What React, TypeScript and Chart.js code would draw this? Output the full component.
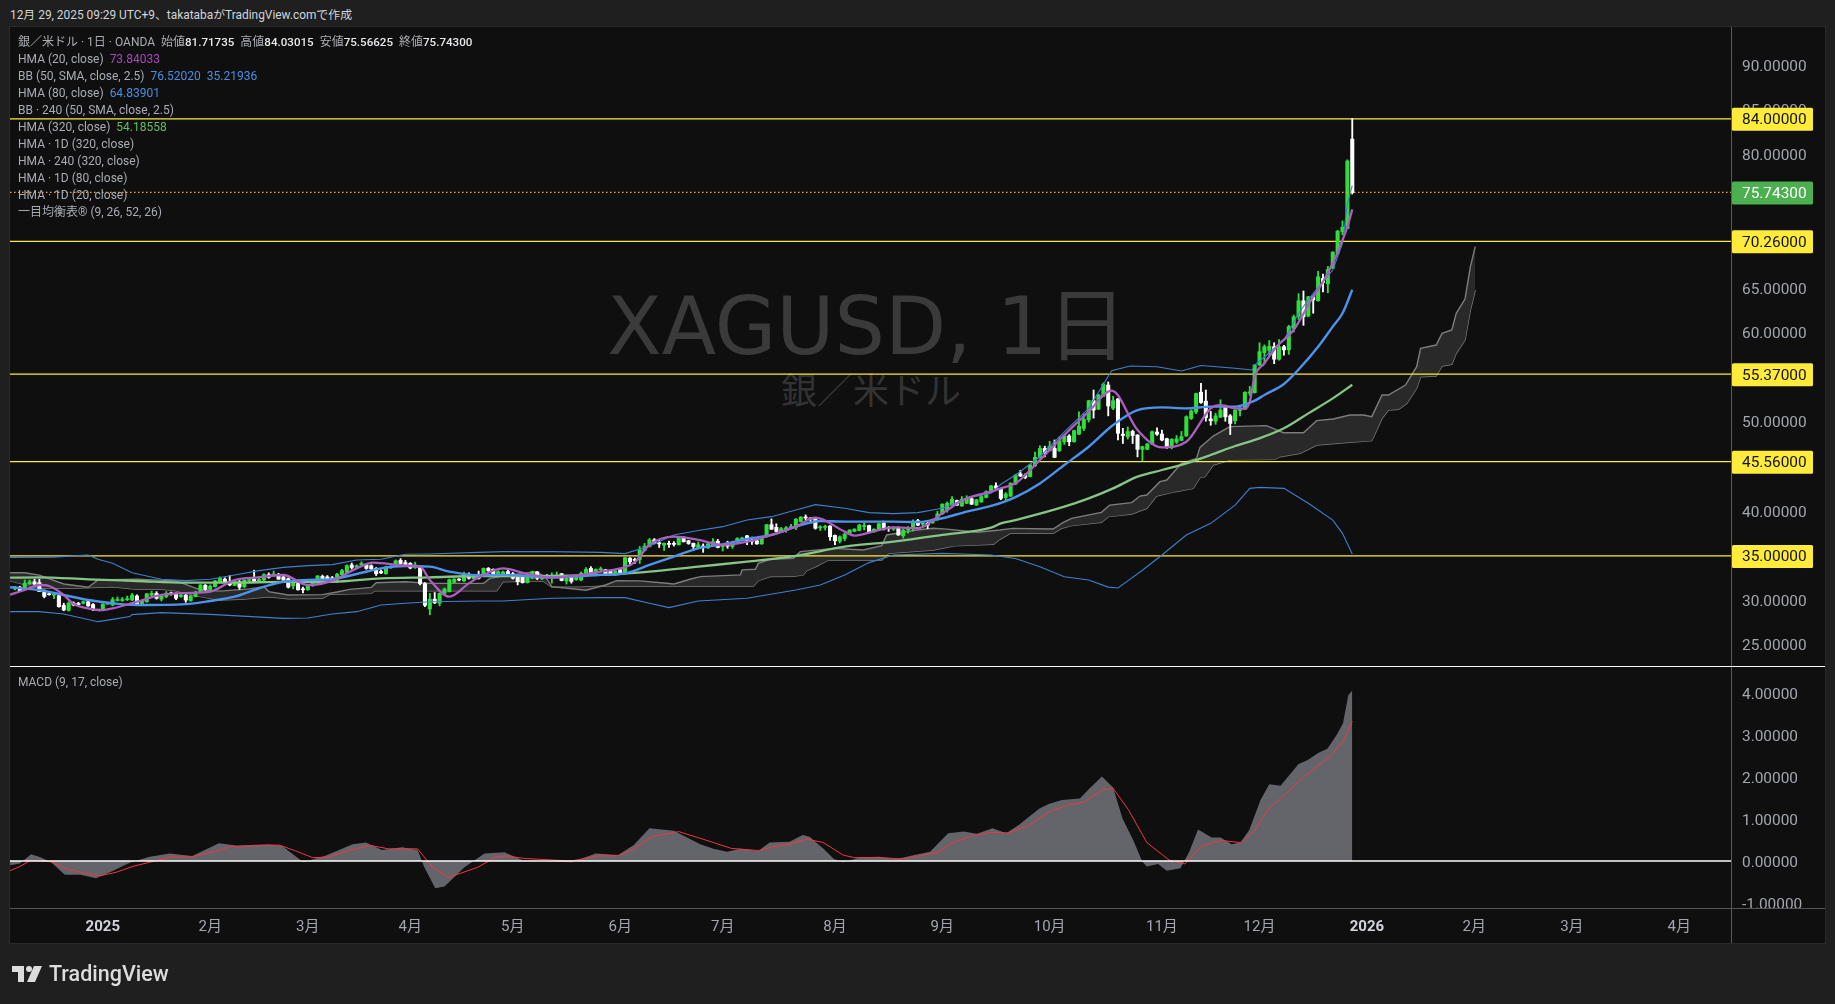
import React, { useEffect, useRef } from "react";
import { Chart, registerables } from "chart.js";

Chart.register(...registerables);

// ---------- daily candles (silver / USD) ----------
const opens = [
  31.3,31.5,31.25,31.85,32.1,32.0,31.05,30.75,30.6,30.55,
  29.45,28.9,29.7,29.65,29.7,29.87,29.55,28.98,29.0,29.6,
  29.5,30.0,30.0,30.1,30.05,30.5,29.6,29.87,30.6,30.8,
  30.15,30.45,30.8,30.8,30.45,30.6,30.0,30.45,30.95,31.7,
  31.25,31.55,32.05,32.4,32.1,31.7,32.1,31.55,32.25,32.4,
  32.1,32.3,32.9,32.75,32.85,32.65,32.45,31.65,31.9,31.3,
  31.2,31.65,31.95,32.7,32.65,32.55,32.3,32.9,33.15,33.98,
  33.75,33.98,33.95,33.9,33.6,33.25,33.0,33.7,33.95,34.5,
  34.25,34.17,33.7,33.75,31.9,29.05,30.15,29.7,30.8,31.0,
  32.05,32.4,32.2,32.87,32.45,32.85,32.8,33.6,33.5,32.9,
  33.0,33.25,33.0,32.75,32.6,32.0,32.5,33.2,32.45,32.8,
  32.7,32.7,33.0,32.2,32.7,32.35,32.3,33.05,33.6,33.05,
  33.45,33.45,33.35,32.85,33.45,33.05,34.75,34.6,34.6,35.6,
  36.05,36.8,36.45,36.2,36.4,36.4,36.25,37.1,36.7,36.4,
  35.9,36.1,35.9,36.15,36.65,36.05,36.25,36.05,36.55,36.9,
  37.25,36.8,36.7,36.35,37.15,38.5,38.2,37.75,37.85,38.15,
  38.2,38.85,39.35,39.25,39.2,38.15,38.2,38.35,37.3,36.65,
  36.95,37.45,37.75,37.85,38.3,38.4,37.7,37.9,38.65,38.15,
  38.0,38.1,37.25,37.9,38.2,38.95,38.55,38.65,38.7,39.05,
  39.7,40.15,40.7,41.2,40.6,40.9,41.4,40.7,41.05,41.55,
  42.3,42.85,42.55,41.55,41.7,43.05,44.2,44.05,43.9,45.1,
  46.0,47.05,46.8,47.05,46.8,47.8,48.45,47.8,48.65,49.3,
  50.25,52.4,51.45,52.9,54.15,51.55,52.6,48.65,48.35,48.95,
  48.55,46.95,46.95,47.54,
  48.89,48.66,48.14,47.17,47.75,47.95,48.45,50.4,51.15,53.35,
  52.35,50.35,50.1,50.55,51.65,50.7,50.15,51.3,51.45,53.25,
  53.3,56.4,57.8,58.05,58.45,57.05,58.45,58.1,60.5,61.85,
  63.6,61.9,64.05,63.6,66.1,65.5,67.25,68.95,71.35,71.7,81.72,
];
const highs = [
  31.6,31.6,32.3,32.3,32.4,32.4,31.2,31.0,30.65,30.65,
  29.7,29.85,29.85,29.8,29.95,29.95,29.65,29.0,29.65,29.8,
  30.35,30.4,30.35,30.5,30.8,30.65,30.05,30.8,31.05,31.0,
  30.6,31.0,30.95,30.85,30.75,30.7,30.6,31.05,31.8,31.8,
  31.75,32.25,32.65,32.55,32.8,32.2,32.25,32.35,32.55,33.4,
  32.65,33.0,33.1,33.3,33.05,32.75,32.55,32.0,32.0,31.5,
  31.7,32.15,32.8,32.85,32.8,32.7,33.05,33.5,34.0,34.2,
  34.0,34.35,34.1,34.0,33.7,33.45,33.85,33.9,34.55,34.7,
  34.5,34.25,34.3,33.8,32.0,30.8,30.9,30.85,31.4,32.4,
  32.45,32.45,33.2,33.1,32.95,33.3,33.65,33.7,33.55,33.35,
  33.3,33.45,33.15,32.8,32.7,32.65,33.3,33.25,32.85,32.9,
  33.1,33.2,33.05,32.55,32.75,32.7,33.2,33.7,33.8,33.55,
  33.75,33.5,33.4,33.4,33.5,34.85,34.8,34.75,36.05,36.4,
  36.95,36.95,36.75,36.45,36.65,36.6,37.1,37.15,36.75,36.45,
  36.55,36.35,36.4,36.95,36.85,36.3,36.65,36.65,37.05,37.1,
  37.3,37.1,36.85,37.2,38.55,39.15,38.6,38.2,38.3,38.55,
  39.2,39.4,39.6,39.3,39.25,38.4,38.45,38.4,37.35,37.25,
  37.55,37.95,38.05,38.55,38.75,38.45,38.05,38.65,38.9,38.3,
  38.25,38.25,38.0,38.3,39.05,39.1,38.85,38.9,39.15,40.0,
  40.85,41.05,41.65,41.25,41.65,41.75,41.65,41.35,41.9,42.3,
  42.9,43.2,42.6,42.1,43.2,44.15,44.6,44.2,45.25,46.65,
  47.35,47.3,47.85,48.0,48.35,48.5,48.6,49.1,51.15,50.9,
  52.45,53.6,53.1,54.4,54.5,52.9,52.65,49.3,49.45,49.1,
  48.6,47.3,47.6,49.0,
  49.35,49.1,48.2,48.15,48.5,48.95,50.7,51.35,53.25,54.35,
  53.6,51.2,51.0,52.5,51.9,50.85,51.4,51.65,53.4,54.0,
  56.45,58.9,58.65,59.15,58.9,59.25,58.6,60.85,62.0,64.4,
  64.7,64.1,64.15,66.9,66.6,67.45,69.1,71.5,72.55,79.4,84.03,
];
const lows = [
  31.2,31.0,31.2,31.8,31.7,31.0,30.3,30.6,30.2,29.25,
  28.85,28.8,29.4,29.45,29.6,29.35,28.85,28.85,28.95,29.55,
  29.4,29.95,29.9,30.0,30.0,29.55,29.55,29.8,30.5,30.15,
  29.95,30.3,30.6,30.1,30.35,29.8,29.9,30.4,30.9,31.15,
  31.15,31.5,32.0,32.05,31.65,31.65,31.25,31.45,32.0,32.05,
  32.0,32.1,32.5,32.7,32.35,32.25,31.4,31.3,31.15,30.85,
  31.15,31.6,31.85,32.4,32.3,32.15,32.0,32.85,33.1,33.5,
  33.6,33.9,33.5,33.45,32.8,33.0,32.95,33.6,33.9,34.05,
  33.8,33.55,33.6,31.75,29.3,28.4,29.65,29.4,30.75,30.95,
  32.0,32.2,32.1,32.4,32.4,32.4,32.7,33.1,32.85,32.8,
  32.9,32.85,32.4,31.75,31.95,31.95,32.45,32.35,32.35,32.6,
  31.95,32.6,32.2,31.85,31.95,32.25,32.2,32.95,32.85,32.95,
  33.35,32.85,32.85,32.8,32.9,33.0,34.0,34.15,34.15,35.55,
  36.0,36.35,35.95,35.6,35.95,36.1,36.2,36.55,36.3,35.6,
  35.85,35.4,35.85,36.1,35.9,35.55,35.85,35.85,36.5,36.85,
  36.25,36.3,36.3,36.3,37.1,37.95,37.7,37.7,37.65,38.1,
  37.95,38.8,39.0,38.7,38.0,37.85,37.9,36.75,36.25,36.45,
  36.7,37.4,37.7,37.8,37.9,37.65,37.65,37.85,37.9,37.75,
  37.85,37.3,37.0,37.55,37.8,38.4,38.35,38.05,38.65,39.0,
  39.65,39.9,40.65,40.65,40.55,40.85,40.75,40.65,41.0,41.5,
  42.25,42.55,41.3,41.3,41.65,43.0,43.9,43.65,43.85,45.0,
  45.95,46.1,46.75,46.0,46.7,47.5,47.35,47.75,48.6,49.05,
  50.0,50.45,51.4,52.85,50.7,51.4,48.0,47.6,48.1,47.6,
  46.1,45.65,46.9,47.5,
  48.5,47.9,47.05,47.0,47.6,47.9,48.4,50.3,50.95,52.1,
  50.1,49.65,49.75,50.5,50.1,48.6,49.8,50.7,51.4,53.0,
  53.25,56.35,56.6,57.5,56.55,56.95,57.5,57.6,60.1,61.5,
  60.85,61.8,62.2,63.55,64.6,64.5,67.2,68.8,71.0,71.7,75.57,
];
const closes = [
  31.5,31.05,31.93,32.1,31.85,31.0,30.45,30.65,30.65,29.31,
  28.95,29.7,29.5,29.55,29.87,29.4,28.95,28.92,29.6,29.7,
  30.1,30.1,30.1,30.2,30.6,29.6,30.0,30.75,30.8,30.25,
  30.5,30.8,30.75,30.25,30.6,30.05,30.5,30.8,31.74,31.25,
  31.6,32.2,32.49,32.1,31.75,32.1,31.5,32.3,32.3,32.1,
  32.35,32.9,32.6,32.97,32.4,32.3,31.5,31.93,31.2,31.2,
  31.6,32.05,32.75,32.45,32.4,32.25,32.95,33.35,33.9,33.7,
  33.9,34.15,33.6,33.55,33.0,33.1,33.75,33.8,34.45,34.15,
  33.98,33.65,33.98,31.9,29.46,30.15,29.75,30.8,31.3,32.35,
  32.4,32.3,32.97,32.5,32.8,32.5,33.6,33.35,33.0,33.25,
  33.2,32.95,32.5,32.1,32.0,32.6,33.25,32.5,32.75,32.7,
  32.8,32.85,32.25,32.5,32.15,32.6,33.05,33.5,32.95,33.5,
  33.5,32.95,32.9,33.3,33.0,34.8,34.35,34.5,35.67,36.1,
  36.8,36.42,36.35,36.42,36.3,36.3,37.05,36.6,36.4,36.05,
  36.25,35.95,36.35,36.6,35.95,36.2,36.1,36.5,36.95,37.0,
  36.7,36.65,36.35,37.1,38.5,38.0,37.75,38.05,38.15,38.25,
  39.1,39.35,39.25,39.1,38.1,38.25,38.3,37.15,36.7,37.15,
  37.45,37.9,38.0,38.45,38.4,37.7,38.0,38.6,38.0,38.05,
  38.1,37.35,37.9,38.0,38.85,38.45,38.7,38.45,39.1,39.7,
  40.8,40.9,41.35,40.7,41.35,41.45,40.8,41.3,41.65,42.2,
  42.85,42.6,41.45,41.95,43.15,44.05,43.95,43.8,45.2,46.05,
  47.05,46.5,47.3,46.05,47.9,48.45,47.8,49.05,49.55,50.3,
  52.4,51.35,53.05,54.25,51.8,52.4,48.75,48.5,48.95,48.5,
  46.95,47.25,47.55,48.93,
  48.65,47.99,47.17,48.07,48.11,48.37,50.6,51.25,53.2,52.2,
  50.5,50.15,50.7,51.35,50.6,49.85,51.35,51.4,53.35,53.4,
  56.4,57.9,58.45,58.5,57.05,58.45,58.1,60.7,61.8,63.6,
  61.8,64.05,63.7,66.3,65.65,67.1,69.05,71.4,71.85,79.27,75.74,
];

type P = [number, number];

// ---------- indicator lines: [bar index, value] ----------
const hma20: P[] = [
  [-1,30.66],[2,31.18],[5,31.74],[7,31.63],[10,30.62],[12,29.6],[15,29.12],[17.4,28.9],[20,29.12],[25,29.87],
  [30,30.62],[35,30.84],[40,30.99],[45,32.3],[50,32.6],[55,32.86],[60,31.74],[65,32.2],[70,33.6],[73.4,34.24],
  [80,33.9],[83,33.79],[85,32.3],[89,30.43],[93,31.92],[95,32.6],[100,33.6],[105,32.97],[110,32.57],[115,32.8],
  [120,33.24],[125,33.75],[127,34.3],[130,36.23],[135,37.16],[140,36.79],[145,36.23],[150,36.6],[155,37.35],[160,38.28],
  [164,39.29],[170,37.72],[172,37.28],[175,37.61],[180,38.2],[185,38.1],[190,39.78],[195,41.46],[200,42.2],[202,42.58],
  [205,43.13],[210,45.75],[215,48.55],[220,51.17],[224.7,53.52],[230,49.11],[235,47.17],[240,47.8],[245,51.54],[247,51.9],
  [250,51.54],[252,51.5],[253,52.3],[254,55.1],[256,56.6],[258.5,58.46],[262,60.33],[266,64.06],[267,64.81],[270,67.8],
  [272,70.4],[273,71.9],[274,73.84],
];
const hma80: P[] = [
  [-1,31.48],[5,31.18],[10,30.62],[15,30.06],[20,29.69],[25,29.5],[35,29.6],[40,29.95],[45,30.43],[50,31.37],
  [55,32.1],[60,32.3],[65,32.4],[70,32.97],[75,33.6],[80,33.87],[85,33.8],[89,33.24],[95,32.83],[100,32.87],
  [110,32.6],[120,32.87],[125,33.05],[130,33.99],[135,34.92],[140,35.85],[145,36.3],[150,36.9],[155,37.35],[160,38.28],
  [165,38.92],[170,38.84],[180,38.84],[185,38.8],[190,39.22],[195,39.97],[200,40.6],[205,41.6],[210,43.13],[215,45.19],
  [220,47.24],[225,49.67],[230,51.35],[235,51.65],[240,51.54],[245,51.73],[250,51.73],[254,52.4],[256,53.04],[260,54.27],
  [263,55.9],[267,58.45],[270,60.7],[272,62.2],[274,64.84],
];
const hma320: P[] = [
  [-1,32.56],[5,32.6],[15,32.38],[25,32.19],[35,32.0],[45,32.0],[55,32.1],[65,32.1],[75,32.49],[85,32.6],
  [95,32.75],[100,32.75],[120,32.87],[130,33.24],[140,33.8],[150,34.36],[160,35.0],[170,36.04],[180,36.6],[190,37.35],
  [200,38.17],[202,38.65],[205,39.02],[215,40.52],[220,41.45],[225,42.57],[230,43.88],[235,44.63],[240,45.38],[245,46.31],
  [250,47.32],[255,48.18],[260,49.3],[265,50.98],[270,52.66],[274,54.19],
];
const bbUpper: P[] = [
  [-1,34.84],[8,34.87],[15,35.1],[17,34.62],[20,34.17],[24,33.12],[30,32.38],[35,32.23],[40,32.38],[45,32.86],
  [50,33.35],[55,33.72],[60,33.91],[65,34.02],[70,34.54],[75,34.62],[80,35.18],[85,35.22],[95,35.4],[100,35.48],
  [110,35.48],[120,35.4],[125,35.26],[130,36.12],[135,37.35],[140,37.84],[145,38.28],[150,39.03],[155,39.4],[160,40.15],
  [164,40.75],[170,40.34],[175,39.85],[180,39.74],[185,39.85],[190,40.34],[195,41.46],[200,42.02],[202,43.03],[205,44.07],
  [210,46.12],[215,48.9],[220,51.54],[224.7,55.76],[228.5,56.29],[234,56.2],[239,55.73],[243,56.35],[250,56.03],[253.5,55.84],
  [254,56.4],[256,57.3],[260,59.2],[263,62.2],[266,64.44],[270,67.05],[272,70.04],[273,74.5],[274,76.52],
];
const bbLower: P[] = [
  [-1,28.75],[5,28.75],[10,28.49],[17,27.63],[20,27.89],[23.5,28.2],[24,28.42],[30,28.64],[40,28.45],[55,28.0],
  [60,28.04],[65,28.49],[70,28.75],[75,29.5],[80,29.69],[85,29.87],[95,29.95],[100,29.95],[110,30.25],[120,30.32],
  [125,30.32],[130,29.69],[134,29.2],[140,29.95],[150,30.25],[160,31.18],[165,31.74],[170,32.87],[175,34.25],[180,35.1],
  [190,35.29],[200,35.1],[205,34.72],[210,33.79],[215,32.67],[220,32.3],[224,31.5],[226,31.4],[228,32.2],[231,33.4],
  [235,35.1],[240,37.34],[245,38.65],[250,40.7],[253,42.57],[255,42.68],[260,42.57],[265,40.9],[270,39.02],[272,37.53],
  [274,35.22],
];
const cloudA: P[] = [
  [-1,33.12],[2,33.12],[5,32.85],[10,31.85],[15,31.48],[17,32.3],[25,32.4],[33,32.2],[38,31.2],[42,31.05],
  [48,31.3],[51,31.55],[52,31.0],[56,30.62],[63,30.66],[66,30.95],[68.6,31.25],[73,31.47],[74,32.0],[80,32.11],
  [85,31.92],[96,31.92],[97.3,32.48],[100,32.75],[106.9,33.23],[108.9,32.48],[110,31.55],[117,31.15],[121,31.74],[123.3,32.23],
  [128,32.2],[133.5,31.93],[135,31.85],[136.6,32.1],[138.3,32.38],[140.4,32.68],[148.6,32.87],[149,33.43],[151.7,33.5],[152.3,34.17],
  [154.7,34.62],[159.5,34.73],[160.9,35.48],[167.7,35.85],[173.8,35.67],[177.6,36.15],[178.6,37.35],[184.8,37.91],[188.2,38.1],[190.9,38.0],
  [197.2,37.65],[201.8,37.9],[204.5,38.09],[212.7,38.01],[214.8,38.76],[216.5,39.21],[222.6,39.88],[224.3,40.7],[228.8,40.97],[230.5,41.71],
  [231.9,41.83],[234.6,43.32],[236,43.51],[239,45.38],[242.1,45.94],[242.8,47.17],[245.5,48.44],[248.9,49.49],[256.4,49.6],[259.9,48.81],
  [264,48.81],[266.7,50.16],[270.1,50.35],[273.5,50.79],[276.3,50.79],[278,50.61],[280.1,53.04],[281.4,53.04],[284.9,54.16],[287.2,56.21],
  [288,58.27],[291.2,58.64],[292.4,59.95],[294.4,60.33],[295.3,62.19],[297.1,63.8],[298.2,67.43],[299.2,69.67],
];
const cloudB: P[] = [
  [-1,32.2],[5,31.37],[13,31.4],[20,31.55],[25,31.25],[30,31.25],[33,31.1],[38,30.43],[42,30.06],[47,30.17],
  [52,30.43],[56,30.2],[63,30.25],[64.5,30.69],[73,30.8],[73.7,31.1],[98.7,31.1],[100,32.1],[108.2,32.2],[110,31.5],
  [115.8,31.48],[121.3,31.63],[151.3,31.63],[152.3,32.23],[154.7,32.68],[159.5,32.72],[161.5,32.87],[162.2,33.35],[164.3,33.87],[166.7,34.55],
  [177.6,34.55],[179,35.29],[188.2,35.67],[191,35.97],[192.3,36.12],[200.5,36.3],[201.8,36.86],[203.9,37.53],[212.7,37.53],[214.4,38.09],
  [216.5,38.39],[222.6,38.76],[224,39.4],[228.8,39.7],[231.9,40.33],[233.9,41.71],[237.7,42.2],[241.4,42.57],[242.8,43.77],[243.8,43.88],
  [245.5,45.19],[248.9,45.75],[258.1,45.82],[259.2,46.12],[263.3,46.5],[266.7,47.43],[272.2,47.69],[278,47.92],[280.1,50.42],[281.4,51.36],
  [283.5,51.43],[285.2,52.1],[287.2,53.79],[288,55.09],[291.2,55.17],[292.4,56.29],[294.4,56.48],[295.3,57.71],[297.1,59.2],[298.2,62.57],
  [299.2,64.81],
];

// ---------- MACD pane ----------
const macdArea: P[] = [
  [-1,-0.1],[1,-0.06],[3.3,0.16],[5.2,0.09],[7.4,-0.03],[10.2,-0.33],[13.4,-0.33],[16.6,-0.41],[19.8,-0.25],[23.5,-0.04],
  [27.6,0.1],[31.7,0.18],[36.3,0.12],[41.8,0.42],[45.4,0.37],[51.8,0.4],[54.6,0.37],[59.1,-0.03],[63.7,0.13],[69.2,0.4],
  [71.9,0.44],[75.2,0.26],[79.3,0.33],[82.5,0.26],[83.8,-0.13],[86.1,-0.65],[88,-0.61],[92.1,-0.15],[96.2,0.18],[100.3,0.21],
  [104,0.02],[114,-0.03],[119,0.18],[123.6,0.14],[126.8,0.38],[130,0.78],[135,0.72],[140.4,0.4],[143.1,0.29],[145.9,0.22],
  [148.6,0.29],[152.3,0.24],[154.6,0.44],[158.7,0.46],[161.4,0.62],[162.8,0.58],[165.6,0.3],[167.8,0.05],[169.7,-0.03],[173.3,0.09],
  [177,0.1],[180.7,0.05],[184.3,0.14],[187.5,0.22],[191.2,0.66],[194.4,0.7],[197.1,0.65],[200.3,0.78],[203.1,0.66],[205.8,0.87],
  [209.9,1.25],[211.8,1.36],[214.5,1.45],[218.2,1.49],[220,1.71],[222.7,2.01],[225,1.75],[226.9,1.02],[229.1,0.5],[231,-0.02],
  [231.9,-0.13],[234.2,-0.07],[236,-0.23],[238.8,-0.17],[240.6,0.22],[242.4,0.75],[245.2,0.56],[247,0.56],[249.3,0.4],[251.1,0.44],
  [252.9,0.74],[255.2,1.45],[257,1.83],[259.3,1.79],[263,2.31],[264.8,2.4],[267.1,2.58],[268.9,2.67],[270.8,3.0],[272.1,3.28],
  [273.2,3.95],[274,4.06],
];
const macdSignal: P[] = [
  [-1,-0.23],[1,-0.13],[3.3,0.02],[7.4,-0.02],[10.2,-0.17],[13.4,-0.27],[17.5,-0.35],[20.7,-0.27],[24.4,-0.12],[27.6,-0.03],
  [31.7,0.09],[36.3,0.1],[40.8,0.22],[44,0.34],[49,0.36],[54.1,0.38],[57.3,0.25],[61,0.08],[64.2,0.09],[68.3,0.25],
  [72.9,0.37],[76.5,0.29],[82.5,0.29],[85.7,-0.17],[88.9,-0.39],[94.8,-0.15],[98.5,0.09],[100.8,0.12],[104.4,0.06],[114,0],
  [119.5,0.12],[123.6,0.13],[126.4,0.26],[130.5,0.58],[136,0.7],[140.4,0.54],[143.1,0.44],[146.8,0.3],[152.3,0.25],[155.5,0.34],
  [158.7,0.4],[162.4,0.52],[165.6,0.44],[169.7,0.14],[172,0.08],[177,0.08],[182,0.05],[188.9,0.2],[192.6,0.46],[196.2,0.6],
  [199.9,0.68],[203.5,0.67],[207.6,0.84],[211.8,1.16],[215.4,1.32],[219.1,1.41],[222.7,1.69],[225,1.73],[228.2,1.21],[231.9,0.44],
  [236.5,0.02],[239.7,-0.07],[242.9,0.34],[247,0.49],[251.1,0.44],[253.9,0.7],[256.6,1.21],[259.3,1.49],[263,1.89],[266.7,2.25],
  [269.4,2.48],[272.1,2.84],[274,3.33],
];

// ---------- levels and axes ----------
const yellowLevels = [84, 70.26, 55.37, 45.56, 35];
const lastClose = 75.743;
const priceTicks = [25, 30, 40, 50, 60, 65, 80, 85, 90];
const macdTicks = [-1, 0, 1, 2, 3, 4];
const timeTickBars = [18, 40, 60, 81, 102, 124, 145, 168, 190, 212, 235, 255, 277, 299, 319, 341];
const timeTickLabels = ["2025", "2月", "3月", "4月", "5月", "6月", "7月", "8月", "9月", "10月", "11月", "12月", "2026", "2月", "3月", "4月"];
const legendRows: [string, string[], string[]][] = [
  ["HMA (20, close)", ["73.84033"], ["#ab47bc"]],
  ["BB (50, SMA, close, 2.5)", ["76.52020", "35.21936"], ["#4a8fe0", "#4a8fe0"]],
  ["HMA (80, close)", ["64.83901"], ["#4a8fe0"]],
  ["BB · 240 (50, SMA, close, 2.5)", [], []],
  ["HMA (320, close)", ["54.18558"], ["#66bb6a"]],
  ["HMA · 1D (320, close)", [], []],
  ["HMA · 240 (320, close)", [], []],
  ["HMA · 1D (80, close)", [], []],
  ["HMA · 1D (20, close)", [], []],
  ["一目均衡表® (9, 26, 52, 26)", [], []],
];
const ohlcLabels: [string, string][] = [["始値", "81.71735"], ["高値", "84.03015"], ["安値", "75.56625"], ["終値", "75.74300"]];

const X_MIN = -1.02;
const X_MAX = 351.6;
const UP = "#2fde3b";
const DOWN = "#ffffff";
const UI_FONT = "Roboto, 'Noto Sans CJK JP', sans-serif";

const pts = (a: P[]) => a.map(([x, y]) => ({ x, y }));
const hLine = (y: number) => [{ x: X_MIN, y }, { x: X_MAX, y }];

const tagPlugin = {
  id: "priceTags",
  afterDraw(chart: any) {
    const { ctx, scales, chartArea } = chart;
    const tag = (v: number, bg: string, fg: string) => {
      const py = scales.y.getPixelForValue(v);
      ctx.save();
      ctx.fillStyle = bg;
      ctx.beginPath();
      ctx.roundRect(chartArea.right + 1, py - 11, 81, 23, 1.5);
      ctx.fill();
      ctx.fillStyle = fg;
      ctx.font = `15.4px ${UI_FONT}`;
      ctx.textBaseline = "middle";
      ctx.textAlign = "left";
      ctx.fillText(v.toFixed(5), chartArea.right + 11, py + 1.5);
      ctx.restore();
    };
    yellowLevels.forEach((v) => tag(v, "#ffeb3b", "#131313"));
    tag(lastClose, "#4caf50", "#ffffff");
  },
};

const Box = ({ s }: { s: React.CSSProperties }) => <div style={{ position: "absolute", ...s }} />;

export default function App() {
  const ref = useRef<HTMLCanvasElement>(null);
  useEffect(() => {
    const line = (label: string, data: P[], color: string, width: number, order: number, extra: any = {}) => ({
      type: "line",
      label,
      data: pts(data),
      borderColor: color,
      borderWidth: width,
      pointRadius: 0,
      order,
      yAxisID: "y",
      ...extra,
    });
    const level = (y: number, color: string, yAxisID: string, order: number, width = 1.3, dash: number[] = []) => ({
      type: "line",
      label: `level ${y}`,
      data: hLine(y),
      borderColor: color,
      borderWidth: width,
      borderDash: dash,
      pointRadius: 0,
      yAxisID,
      order,
    });
    const wickData = highs.map((h, i) => ({ x: i, y: [lows[i], h] }));
    const bodyData = opens.map((o, i) => ({ x: i, y: [o, closes[i]] }));
    const colors = opens.map((o, i) => (closes[i] >= o ? UP : DOWN));
    const barBase = { type: "bar", grouped: false, barPercentage: 1, categoryPercentage: 1, yAxisID: "y", borderWidth: 0 };

    const chart = new Chart(ref.current as HTMLCanvasElement, {
      type: "bar",
      data: {
        datasets: [
          level(lastClose, "#e8a860", "y", 1, 1.2, [1.5, 2.5]),
          line("HMA 20", hma20, "#ab5fc0", 2.3, 2, { cubicInterpolationMode: "monotone" }),
          line("HMA 80", hma80, "#4a94ee", 2.4, 3, { cubicInterpolationMode: "monotone" }),
          line("HMA 320", hma320, "#86c586", 2.3, 4, { cubicInterpolationMode: "monotone" }),
          line("BB upper", bbUpper, "#3f7fd0", 1.1, 5),
          line("BB lower", bbLower, "#3f7fd0", 1.1, 5),
          { ...barBase, label: "bodies", data: bodyData, backgroundColor: colors, maxBarThickness: 3.4, minBarLength: 1, order: 6 },
          { ...barBase, label: "wicks", data: wickData, backgroundColor: colors, maxBarThickness: 1.2, order: 7 },
          ...yellowLevels.map((v) => level(v, "#ffeb3b", "y", 8)),
          line("Span A", cloudA, "#7d7d7d", 1.4, 9, { fill: "+1", backgroundColor: "#292929" }),
          line("Span B", cloudB, "#7d7d7d", 1.4, 10),
          level(0, "#ffffff", "yM", 11, 1.3),
          line("MACD signal", macdSignal, "#f23645", 1, 12, { yAxisID: "yM" }),
          line("MACD", macdArea, "rgba(0,0,0,0)", 0, 13, { yAxisID: "yM", fill: { value: 0 }, backgroundColor: "#64656b" }),
        ],
      } as any,
      options: {
        responsive: false,
        animation: false,
        devicePixelRatio: 1,
        events: [],
        layout: { padding: { left: 10, right: 10, top: 27, bottom: 61 } },
        plugins: { legend: { display: false }, tooltip: { enabled: false }, title: { display: false } },
        scales: {
          x: {
            type: "linear",
            min: X_MIN,
            max: X_MAX,
            offset: false,
            grid: { display: false, drawTicks: false },
            border: { display: false },
            afterFit: (s: any) => { s.height = 35; },
            afterBuildTicks: (s: any) => { s.ticks = timeTickBars.map((value) => ({ value })); },
            ticks: {
              autoSkip: false,
              maxRotation: 0,
              minRotation: 0,
              padding: 10,
              color: (c: any) => (c.tick && (c.tick.value === 18 || c.tick.value === 277) ? "#d1d4dc" : "#a3a6af"),
              font: (c: any) => ({ family: UI_FONT, size: 15, weight: c.tick && (c.tick.value === 18 || c.tick.value === 277) ? "bold" : "normal" }),
              callback: (v: any) => timeTickLabels[timeTickBars.indexOf(v)],
            },
          },
          y: {
            type: "linear",
            position: "right",
            stack: "panes",
            stackWeight: 639,
            min: 22.66,
            max: 94.29,
            grid: { display: false, drawTicks: false },
            border: { display: false },
            afterFit: (s: any) => { s.width = 94; },
            afterBuildTicks: (s: any) => { s.ticks = priceTicks.map((value) => ({ value })); },
            ticks: { padding: 11, labelOffset: 1.5, color: "#a3a6af", font: { family: UI_FONT, size: 15.4 }, callback: (v: any) => Number(v).toFixed(5), autoSkip: false },
          },
          yM: {
            type: "linear",
            position: "right",
            stack: "panes",
            stackWeight: 242,
            min: -1.119,
            max: 4.643,
            grid: { display: false, drawTicks: false },
            border: { display: false },
            afterFit: (s: any) => { s.width = 94; },
            afterBuildTicks: (s: any) => { s.ticks = macdTicks.map((value) => ({ value })); },
            ticks: { padding: 11, labelOffset: 2, color: "#a3a6af", font: { family: UI_FONT, size: 15.4 }, callback: (v: any) => Number(v).toFixed(5), autoSkip: false },
          },
        },
      } as any,
      plugins: [tagPlugin],
    });
    return () => chart.destroy();
  }, []);

  const rowStyle = (top: number): React.CSSProperties => ({
    position: "absolute", left: 18, top, height: 17, lineHeight: "17px", fontSize: 12, color: "#a9acb4", fontFamily: UI_FONT, whiteSpace: "pre",
  });

  return (
    <div style={{ position: "fixed", left: 0, top: 0, width: 1835, height: 1004, background: "#1f1f1f", overflow: "hidden" }}>
      <div style={{ position: "absolute", left: 10, top: 5, lineHeight: "20px", fontSize: 11.9, color: "#d1d4dc", fontFamily: UI_FONT, whiteSpace: "pre" }}>
        12月 29, 2025 09:29 UTC+9、takatabaがTradingView.comで作成
      </div>
      <Box s={{ left: 9, top: 26, width: 1815, height: 916, background: "#0f0f0f", border: "1px solid #2a2a2a" }} />
      <div style={{ position: "absolute", left: 597, width: 540, top: 282, textAlign: "center", fontFamily: "'DejaVu Sans', 'Noto Sans CJK JP'", fontSize: 79.5, lineHeight: "90px", color: "#3a3a3a", whiteSpace: "pre" }}>XAGUSD, 1日</div>
      <div style={{ position: "absolute", left: 670, width: 402, top: 365, textAlign: "center", fontFamily: "'Noto Sans CJK JP'", fontSize: 36, lineHeight: "46px", color: "#333333", whiteSpace: "pre" }}>銀／米ドル</div>

      <canvas ref={ref} width={1835} height={1004} style={{ position: "absolute", left: 0, top: 0, display: "block" }} />

      <Box s={{ left: 1731, top: 27, width: 1, height: 916, background: "#5a5a5a" }} />
      <Box s={{ left: 10, top: 666, width: 1815, height: 1, background: "#f5f5f5" }} />
      <Box s={{ left: 10, top: 908, width: 1815, height: 1, background: "#555555" }} />

      <div style={rowStyle(34)}>
        銀／米ドル · 1日 · OANDA{"  "}
        {ohlcLabels.map(([k, v]) => (
          <span key={k}>{k}<b style={{ color: "#e6e7ea", fontWeight: 500, fontSize: 11.6 }}>{v}</b>{"  "}</span>
        ))}
      </div>
      {legendRows.map(([name, vals, cols], i) => (
        <div key={name + i} style={rowStyle(51 + i * 17)}>
          {name}{"  "}
          {vals.map((v, k) => <span key={k} style={{ color: cols[k] }}>{v}{"  "}</span>)}
        </div>
      ))}
      <div style={{ ...rowStyle(674) }}>MACD (9, 17, close)</div>

      <svg width="31" height="16" viewBox="0 0 31 16" style={{ position: "absolute", left: 12, top: 966 }}>
        <path d="M0 0H12V16H6V6H0Z" fill="#dcdcdc" />
        <circle cx="17" cy="3" r="3" fill="#dcdcdc" />
        <path d="M22 0H30L23 16H15Z" fill="#dcdcdc" />
      </svg>
      <div style={{ position: "absolute", left: 49, top: 960, lineHeight: "28px", fontFamily: "Roboto, sans-serif", fontWeight: 500, fontSize: 21.5, color: "#dcdcdc" }}>TradingView</div>
    </div>
  );
}
